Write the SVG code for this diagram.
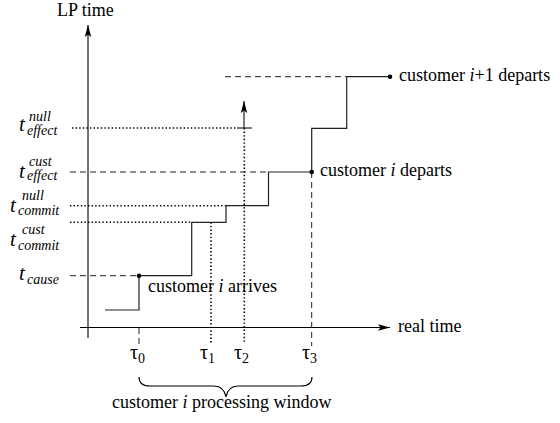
<svg xmlns="http://www.w3.org/2000/svg" width="560" height="423" viewBox="0 0 560 423" font-family="'Liberation Serif', Tinos, 'Times New Roman', 'DejaVu Serif', 'Noto Serif', serif">
  <style>
    .lbl { font-size: 18px; }
    .it { font-style: italic; }
    .big { font-size: 21px; font-style: italic; }
    .scr { font-size: 14px; font-style: italic; }
    .axis { stroke: #000; stroke-width: 1.1; fill: none; }
    .step { stroke: #222; stroke-width: 1.2; fill: none; }
    .dash { stroke: #222; stroke-width: 1; stroke-dasharray: 6 4; fill: none; }
    .dot { stroke: #000; stroke-width: 1.6; stroke-dasharray: 1.4 2.2; fill: none; }
  </style>
  <defs>
    <marker id="head" viewBox="0 0 12 8" refX="12" refY="4" markerWidth="12" markerHeight="8" markerUnits="userSpaceOnUse" orient="auto">
      <path d="M0,0.8 L12,4 L0,7.2 L2.5,4 Z" fill="#000"/>
    </marker>
  </defs>
  <rect width="560" height="423" fill="#fff"/>

  <g id="axes">
    <line class="axis" x1="88" y1="338" x2="88" y2="25" marker-end="url(#head)"/>
    <line class="axis" x1="80" y1="327.5" x2="390" y2="327.5" marker-end="url(#head)"/>
    <text class="lbl" x="57" y="16">LP time</text>
    <text class="lbl" x="398" y="332">real time</text>
  </g>

  <g id="connectors">
    <!-- guide lines: dashed -->
    <line class="dash" x1="225" y1="76.7" x2="346.7" y2="76.7"/>
    <line class="dash" x1="70" y1="172" x2="268.5" y2="172"/>
    <line class="dash" x1="70" y1="275.7" x2="139" y2="275.7"/>
    <line class="dash" x1="139" y1="328" x2="139" y2="346"/>
    <line class="dash" x1="311.7" y1="172" x2="311.7" y2="346"/>
    <!-- guide lines: dotted -->
    <line class="dot" x1="72" y1="128" x2="237" y2="128"/>
    <line class="dot" x1="70" y1="205.7" x2="226" y2="205.7"/>
    <line class="dot" x1="70" y1="222.3" x2="191.7" y2="222.3"/>
    <line class="dot" x1="211" y1="222.3" x2="211" y2="344"/>
    <line class="dot" x1="244.3" y1="128" x2="244.3" y2="344"/>
    <!-- LP time staircase -->
    <path class="step" d="M105,310 H139 V275.7 H191.7 V222.3 H226 V205.7 H268.5 V172 H311.7 V128.3 H346.7 V76.7 H390"/>
    <!-- null message bound -->
    <line class="step" x1="237" y1="128" x2="252" y2="128"/>
    <line class="step" x1="244" y1="128" x2="244" y2="101" marker-end="url(#head)"/>
    <!-- processing window brace -->
    <path class="axis" stroke-width="1" d="M139,377 Q139,386 150,386 L214,386 Q224,386 226,397 Q228,386 238,386 L301,386 Q312,386 312,377"/>
  </g>

  <g id="arrival">
    <circle cx="139" cy="275.7" r="2.3" fill="#000"/>
    <text class="lbl" x="148" y="292">customer <tspan class="it">i</tspan> arrives</text>
  </g>
  <g id="departure-i">
    <circle cx="311.7" cy="172" r="2.3" fill="#000"/>
    <text class="lbl" x="320" y="176">customer <tspan class="it">i</tspan> departs</text>
  </g>
  <g id="departure-i1">
    <circle cx="390" cy="76.7" r="2.3" fill="#000"/>
    <text class="lbl" x="399" y="81">customer <tspan class="it">i</tspan>+1 departs</text>
  </g>

  <g id="y-labels">
    <text class="big" x="19" y="131">t</text>
    <text class="scr" x="29" y="121">null</text>
    <text class="scr" x="27" y="135">effect</text>

    <text class="big" x="19" y="178">t</text>
    <text class="scr" x="29" y="166">cust</text>
    <text class="scr" x="27" y="180">effect</text>

    <text class="big" x="10" y="212">t</text>
    <text class="scr" x="22" y="200">null</text>
    <text class="scr" x="18" y="215">commit</text>

    <text class="big" x="10" y="246">t</text>
    <text class="scr" x="22" y="234">cust</text>
    <text class="scr" x="18" y="250">commit</text>

    <text class="big" x="19" y="280">t</text>
    <text class="scr" x="27" y="284">cause</text>
  </g>

  <g id="x-labels">
    <text x="130" y="359" font-size="20">τ<tspan font-size="14" dy="4">0</tspan></text>
    <text x="200" y="359" font-size="20">τ<tspan font-size="14" dy="4">1</tspan></text>
    <text x="234" y="359" font-size="20">τ<tspan font-size="14" dy="4">2</tspan></text>
    <text x="302" y="359" font-size="20">τ<tspan font-size="14" dy="4">3</tspan></text>
    <text class="lbl" x="112" y="408">customer <tspan class="it">i</tspan> processing window</text>
  </g>
</svg>
